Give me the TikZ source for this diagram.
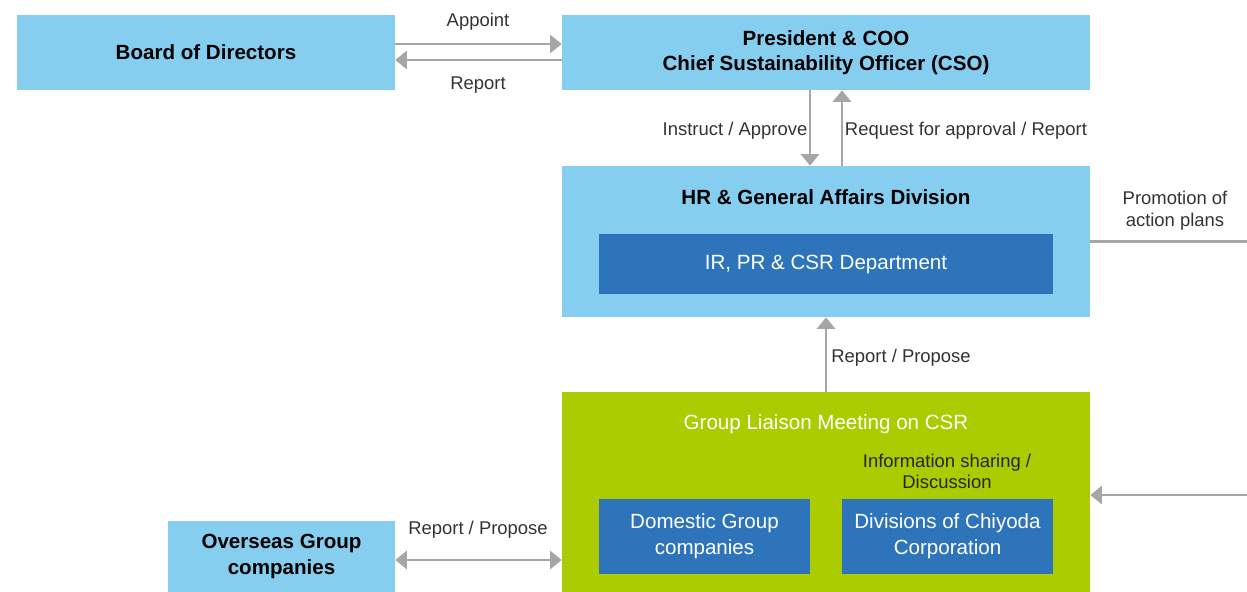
\documentclass[tikz,border=0pt]{standalone}
\usepackage{fontspec}
\setmainfont{Liberation Sans}
\usepackage{tikz}
\usetikzlibrary{calc,shapes,positioning}
\usetikzlibrary{arrows.meta}
\tikzset{>={Triangle[width=10.5pt,length=6.6pt]}}

\definecolor{lightblue}{HTML}{86CEF0}
\definecolor{darkblue}{HTML}{2E74BA}
\definecolor{liaisongreen}{HTML}{AACC00}
\definecolor{arrowgray}{HTML}{A6A6A6}
\definecolor{labelgray}{HTML}{333333}

\begin{document}
\begin{tikzpicture}
      \tikzstyle{onode} = [fill=lightblue, rectangle, inner sep = 0pt, align=center, font=\fontsize{11.7}{14.5}\selectfont\bfseries]
      \tikzstyle{inode} = [fill=darkblue, rectangle, inner sep = 0pt, align=center, text=white, font=\fontsize{11.7}{14.7}\selectfont]
      \tikzstyle{gnode} = [fill=liaisongreen, rectangle, inner sep = 0pt]
      \tikzstyle{lnode} = [inner sep = 0pt, align=center, text=labelgray, font=\fontsize{10.5}{12.3}\selectfont]
      \tikzstyle{conn} = [draw=arrowgray, line width=1.15pt]

      \useasboundingbox (0,0) rectangle (24.94,-11.84);

      % boxes
      \node[onode, minimum width=7.56cm, minimum height=1.5cm] (board) at (4.12,-1.05) {Board of Directors};
      \node[onode, minimum width=10.56cm, minimum height=1.5cm] (pres) at (16.52,-1.05) {President \& COO\\Chief Sustainability Officer (CSO)};
      \node[onode, minimum width=10.56cm, minimum height=3.02cm] (hr) at (16.52,-4.83) {};
      \node[onode] (hrtitle) at (16.52,-3.94) {HR \& General Affairs Division};
      \node[inode, minimum width=9.08cm, minimum height=1.2cm] (ir) at (16.52,-5.28) {IR, PR \& CSR Department};

      \node[gnode, minimum width=10.56cm, minimum height=4.0cm] (group) at (16.52,-9.84) {};
      \node[inner sep=0pt, text=white, font=\fontsize{11.7}{14}\selectfont] (grouptitle) at (16.52,-8.48) {Group Liaison Meeting on CSR};
      \node[inode, minimum width=4.22cm, minimum height=1.5cm] (dom) at (14.09,-10.73) {Domestic Group\\companies};
      \node[inode, minimum width=4.22cm, minimum height=1.5cm] (div) at (18.95,-10.73) {Divisions of Chiyoda\\Corporation};
      \node[onode, minimum width=4.54cm, minimum height=1.42cm] (overseas) at (5.63,-11.13) {Overseas Group\\companies};

      % free ends at the right margin
      \coordinate (promoend) at (24.94,-4.83);
      \coordinate (infoend) at (24.94,-9.90);

      % edge board to president
      \draw[conn,->] ([yshift=0.17cm]board.east) -- ([yshift=0.17cm]board.east -| pres.west);
      \draw[conn,->] ([yshift=-0.15cm]board.east -| pres.west) -- ([yshift=-0.15cm]board.east);

      % edge president to hr
      \draw[conn,->] ([xshift=-0.32cm]pres.south) -- ([xshift=-0.32cm]hr.north);
      \draw[conn,->] ([xshift=0.32cm]hr.north) -- ([xshift=0.32cm]pres.south);

      % edge group to hr
      \draw[conn,->] (group.north) -- (hr.south);
      \draw[conn] (hr.east) -- (promoend);
      \draw[conn,->] (infoend) -- (group.east |- infoend);

      % edge overseas to group
      \draw[conn,<->] ([yshift=-0.07cm]overseas.east) -- ([yshift=-0.07cm]overseas.east -| group.west);

      % labels
      \node[lnode] (lappoint) at (9.56,-0.44) {Appoint};
      \node[lnode] (lreport) at (9.56,-1.71) {Report};
      \node[lnode] (linstruct) at (14.70,-2.61) {Instruct / Approve};
      \node[lnode] (lrequest) at (19.32,-2.61) {Request for approval / Report};
      \node[lnode] (lpromo) at (23.50,-4.21) {Promotion of\\action plans};
      \node[lnode] (lpropose) at (18.02,-7.15) {Report / Propose};
      \node[lnode, text=black!85] (linfo) at (18.94,-9.43) {Information sharing /\\Discussion};
      \node[lnode] (loverseas) at (9.56,-10.59) {Report / Propose};
\end{tikzpicture}
\end{document}
